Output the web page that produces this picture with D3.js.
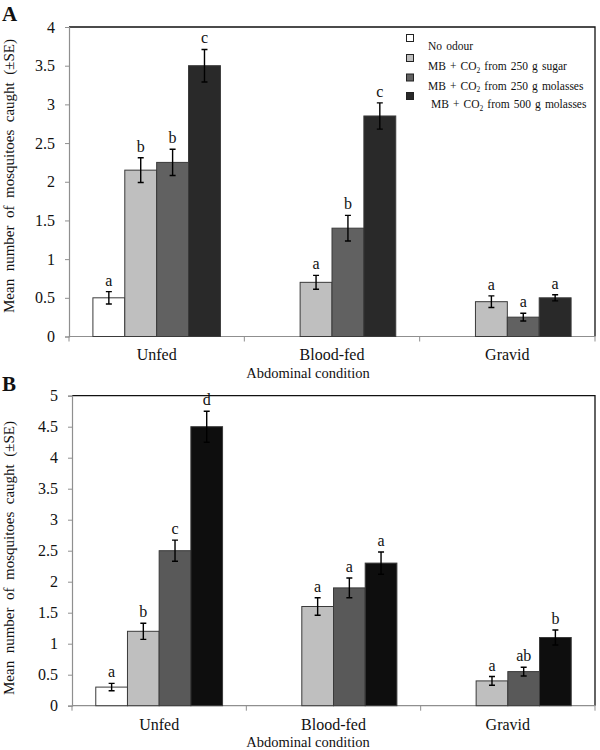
<!DOCTYPE html>
<html>
<head>
<meta charset="utf-8">
<script src="https://cdn.jsdelivr.net/npm/d3@7"></script>
<style>
  html, body { margin: 0; padding: 0; background: #fff; }
  svg { display: block; font-family: "Liberation Serif", "Times New Roman", serif; }
</style>
</head>
<body>
<svg id="chart" width="600" height="750"></svg>
<script>
// ---------- data ----------
const categories = ["Unfed", "Blood-fed", "Gravid"];
const seriesLabels = [
  "No odour",
  "MB + CO\u2082 from 250 g sugar",
  "MB + CO\u2082 from 250 g molasses",
  "MB + CO\u2082 from 500 g molasses"
];
const yTicksA = [0, 0.5, 1, 1.5, 2, 2.5, 3, 3.5, 4];
const yTicksB = [0, 0.5, 1, 1.5, 2, 2.5, 3, 3.5, 4, 4.5, 5];
const xTitle = "Abdominal condition";
const yTitle = "Mean  number  of  mosquitoes  caught  (\u00B1SE)";

// Panel A
const aNoOdour = [0.5, null, null];
const aSugar   = [2.15, 0.7, 0.45];
const aMol250  = [2.25, 1.4, 0.25];
const aMol500  = [3.5, 2.85, 0.5];
const aNoOdourSE = [0.08, null, null];
const aSugarSE   = [0.16, 0.09, 0.075];
const aMol250SE  = [0.17, 0.165, 0.05];
const aMol500SE  = [0.21, 0.17, 0.04];
const aLetters = [["a", "b", "b", "c"], ["", "a", "b", "c"], ["", "a", "a", "a"]];

// Panel B
const bNoOdour = [0.3, null, null];
const bSugar   = [1.2, 1.6, 0.4];
const bMol250  = [2.5, 1.9, 0.55];
const bMol500  = [4.5, 2.3, 1.1];
const bNoOdourSE = [0.06, null, null];
const bSugarSE   = [0.13, 0.14, 0.07];
const bMol250SE  = [0.17, 0.16, 0.07];
const bMol500SE  = [0.25, 0.18, 0.12];
const bLetters = [["a", "b", "c", "d"], ["", "a", "a", "a"], ["", "a", "ab", "b"]];

const coloursA = ["#ffffff", "#bfbfbf", "#616161", "#292929"];
const coloursB = ["#ffffff", "#bfbfbf", "#595959", "#0e0e0e"];

// ---------- drawing ----------
const svg = d3.select("#chart");

function drawPanel(opt) {
  const { left, right, top, bottom, yMax, ticks, series, ses, letters, colours, tag, tagY, catY, titleY, yLabelY } = opt;
  const g = svg.append("g");

  const y = d3.scaleLinear().domain([0, yMax]).range([bottom, top]);
  const x0 = d3.scaleBand().domain(categories).range([left, right]).padding(0);
  const bw = x0.bandwidth();
  const x1 = d3.scaleBand().domain(d3.range(series.length))
    .range([bw * 0.75 / 5.5, bw * 4.75 / 5.5]).padding(0);

  // frame (top & right)
  g.append("path")
    .attr("d", `M${left},${top}H${right}V${bottom}`)
    .attr("fill", "none").attr("stroke", "#111").attr("stroke-width", 1.3);

  // y axis
  const yAxis = d3.axisLeft(y).tickValues(ticks).tickSize(4).tickPadding(10)
    .tickFormat(d => String(d));
  const ya = g.append("g").attr("transform", `translate(${left},0)`).call(yAxis)
    .attr("font-family", "Liberation Serif").attr("font-size", 16);
  ya.select(".domain").attr("stroke", "#8f8f8f").attr("stroke-width", 1.2);
  ya.selectAll(".tick line").attr("stroke", "#8f8f8f");
  ya.selectAll(".tick text").attr("fill", "#111");

  // x axis baseline with boundary ticks
  const xa = g.append("g");
  xa.append("line").attr("x1", left).attr("x2", right).attr("y1", bottom).attr("y2", bottom)
    .attr("stroke", "#8f8f8f").attr("stroke-width", 1.2);
  const edges = categories.map(c => x0(c)).concat([right]);
  xa.selectAll("line.edge").data(edges).enter().append("line").attr("class", "edge")
    .attr("x1", d => d).attr("x2", d => d).attr("y1", bottom).attr("y2", bottom + 5)
    .attr("stroke", "#8f8f8f");

  // bars
  categories.forEach((c, ci) => {
    series.forEach((s, si) => {
      const v = s[ci];
      if (v == null) return;
      const bx = x0(c) + x1(si);
      g.append("rect")
        .attr("x", bx).attr("y", y(v))
        .attr("width", x1.bandwidth()).attr("height", y(0) - y(v))
        .attr("fill", colours[si]).attr("stroke", "#3a3a3a").attr("stroke-width", 1);
      const se = ses[si][ci];
      const cx = bx + x1.bandwidth() / 2;
      g.append("path")
        .attr("d", `M${cx - 3},${y(v + se)}H${cx + 3}M${cx},${y(v + se)}V${y(v - se)}M${cx - 3},${y(v - se)}H${cx + 3}`)
        .attr("fill", "none").attr("stroke", "#000").attr("stroke-width", 1.4);
      const L = letters[ci][si];
      if (L) {
        g.append("text").attr("x", cx).attr("y", y(v + se) - 6)
          .attr("text-anchor", "middle").attr("font-size", 16).attr("fill", "#111").text(L);
      }
    });
    g.append("text").attr("x", x0(c) + bw / 2).attr("y", catY)
      .attr("text-anchor", "middle").attr("font-size", 16).attr("fill", "#111").text(c);
  });

  // x title
  g.append("text").attr("x", 308).attr("y", titleY).attr("text-anchor", "middle")
    .attr("font-size", 14.5).attr("fill", "#111").text(xTitle);

  // y title
  g.append("text").attr("transform", `translate(14,${yLabelY}) rotate(-90)`)
    .attr("text-anchor", "middle").attr("font-size", 15).attr("fill", "#111")
    .style("white-space", "pre").attr("xml:space", "preserve").text(yTitle);

  // panel tag
  g.append("text").attr("x", 2).attr("y", tagY).attr("font-size", 21)
    .attr("font-weight", "bold").attr("fill", "#111").text(tag);
}

drawPanel({
  left: 69, right: 595, top: 27, bottom: 336.5, yMax: 4, ticks: yTicksA,
  series: [aNoOdour, aSugar, aMol250, aMol500],
  ses: [aNoOdourSE, aSugarSE, aMol250SE, aMol500SE],
  letters: aLetters, colours: coloursA, tag: "A", tagY: 21,
  catY: 360, titleY: 378, yLabelY: 176
});

drawPanel({
  left: 72, right: 595, top: 395.7, bottom: 705.7, yMax: 5, ticks: yTicksB,
  series: [bNoOdour, bSugar, bMol250, bMol500],
  ses: [bNoOdourSE, bSugarSE, bMol250SE, bMol500SE],
  letters: bLetters, colours: coloursB, tag: "B", tagY: 391,
  catY: 730, titleY: 747, yLabelY: 558
});

// legend (panel A)
const legend = svg.append("g").attr("font-size", 11.5).attr("fill", "#111")
  .attr("word-spacing", 1.2);
const legendMarkerY = [38, 58, 77.5, 96];
seriesLabels.forEach((lab, i) => {
  legend.append("rect").attr("x", 406.5).attr("y", legendMarkerY[i] - 3.5)
    .attr("width", 7).attr("height", 7)
    .attr("fill", coloursA[i]).attr("stroke", "#222").attr("stroke-width", 1);
  const t = legend.append("text").attr("x", i === 3 ? 431 : 428).attr("y", legendMarkerY[i] + 12);
  const parts = lab.split("\u2082");
  if (parts.length === 1) {
    t.text(lab);
  } else {
    t.append("tspan").text(parts[0]);
    t.append("tspan").attr("font-size", 7.5).attr("dy", 2.5).text("2");
    t.append("tspan").attr("dy", -2.5).text(parts[1]);
  }
});
</script>
</body>
</html>
